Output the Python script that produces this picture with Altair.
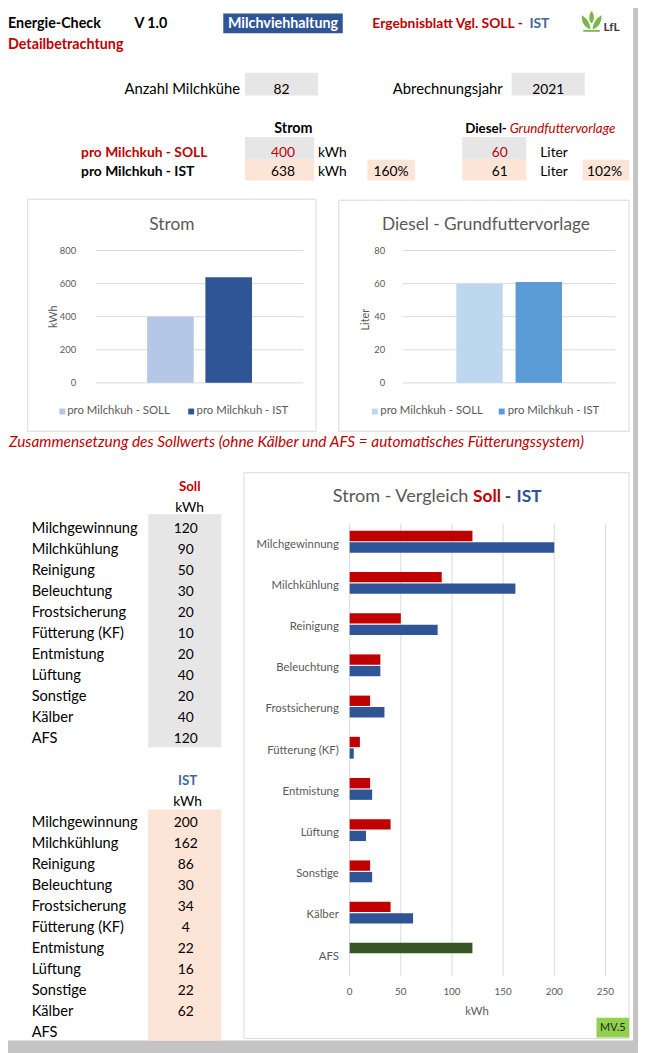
import altair as alt
import pandas as pd

# ---------------- Daten ----------------
kategorien = ["Milchgewinnung", "Milchkühlung", "Reinigung", "Beleuchtung", "Frostsicherung",
              "Fütterung (KF)", "Entmistung", "Lüftung", "Sonstige", "Kälber", "AFS"]
soll_kwh = [120, 90, 50, 30, 20, 10, 20, 40, 20, 40, 120]
ist_kwh = [200, 162, 86, 30, 34, 4, 22, 16, 22, 62, None]

anzahl_milchkuehe = 82
abrechnungsjahr = 2021

serien = ["pro Milchkuh - SOLL", "pro Milchkuh - IST"]
strom_kwh = [400, 638]
diesel_liter = [60, 61]

strom_ticks = [0, 200, 400, 600, 800]
diesel_ticks = [0, 20, 40, 60, 80]
vergleich_ticks = [0, 50, 100, 150, 200, 250]
vergleich_serien = ["SOLL", "IST"]

# ---------------- Stil / Layout ----------------
OFF = 8
FONT = "Lato"
RED = "#c00000"
BLUE = "#2f5597"
IST_BLUE = "#44689a"
GREY_TXT = "#595959"
GRID = "#d9d9d9"
CELL_GREY = "#e7e6e6"
CELL_PEACH = "#fce4d6"
BLACK = "#000000"


def px(v):
    return v - OFF


def texts(rows, size=13, weight="normal", style="normal", align="left",
          baseline="alphabetic", angle=None, dy=None):
    df = pd.DataFrame(rows, columns=["x", "y", "t", "c"])
    df["x"] = df["x"] - OFF
    df["y"] = df["y"] - OFF
    df["t"] = df["t"].astype(str)
    mk = dict(font=FONT, fontSize=size, fontWeight=weight, fontStyle=style,
              align=align, baseline=baseline)
    if angle is not None:
        mk["angle"] = angle
    if dy is not None:
        mk["dy"] = dy
    return alt.Chart(df).mark_text(**mk).encode(
        x=alt.X("x:Q", scale=None, axis=None),
        y=alt.Y("y:Q", scale=None, axis=None),
        text="t:N",
        color=alt.Color("c:N", scale=None, legend=None),
    )


def boxes(rows, stroke=None):
    df = pd.DataFrame(rows, columns=["x", "x2", "y", "y2", "c"])
    for col in ["x", "x2", "y", "y2"]:
        df[col] = df[col] - OFF
    mk = {}
    if stroke:
        mk = dict(stroke=stroke, strokeWidth=1)
    return alt.Chart(df).mark_rect(**mk).encode(
        x=alt.X("x:Q", scale=None, axis=None), x2="x2:Q",
        y=alt.Y("y:Q", scale=None, axis=None), y2="y2:Q",
        fill=alt.Fill("c:N", scale=None, legend=None),
    )


def saeulen(werte, ticks, farben, x0, x1, y0, y1, pin, pout, label_x):
    df = pd.DataFrame({"serie": serien, "wert": werte})
    xs = alt.Scale(domain=serien, range=[px(x0), px(x1)], paddingInner=pin, paddingOuter=pout)
    ys = alt.Scale(domain=[ticks[0], ticks[-1]], range=[px(y0), px(y1)])
    tdf = pd.DataFrame({"tick": ticks})
    grid = alt.Chart(tdf).mark_rule(color=GRID, strokeWidth=1).encode(
        y=alt.Y("tick:Q", scale=ys, axis=None),
        x=alt.value(px(x0)), x2=alt.value(px(x1)))
    lab = alt.Chart(tdf).mark_text(font=FONT, fontSize=9.5, color=GREY_TXT,
                                   align="right", baseline="middle").encode(
        y=alt.Y("tick:Q", scale=ys, axis=None), x=alt.value(px(label_x)), text="tick:Q")
    bars = alt.Chart(df).mark_bar().encode(
        x=alt.X("serie:N", scale=xs, axis=None),
        y=alt.Y("wert:Q", scale=ys, axis=None),
        color=alt.Color("serie:N", scale=alt.Scale(domain=serien, range=farben), legend=None))
    return alt.layer(grid, lab, bars)


def legende(farben, sq_x, tx_x, ly):
    df = pd.DataFrame({"serie": serien,
                       "sx": [px(v) for v in sq_x],
                       "tx": [px(v) for v in tx_x],
                       "ly": [px(ly)] * 2})
    sq = alt.Chart(df).mark_square(size=36, opacity=1).encode(
        x=alt.X("sx:Q", scale=None, axis=None), y=alt.Y("ly:Q", scale=None, axis=None),
        color=alt.Color("serie:N", scale=alt.Scale(domain=serien, range=farben), legend=None))
    tx = alt.Chart(df).mark_text(font=FONT, fontSize=11.5, color=GREY_TXT,
                                 align="left", baseline="middle").encode(
        x=alt.X("tx:Q", scale=None, axis=None), y=alt.Y("ly:Q", scale=None, axis=None),
        text="serie:N")
    return [sq, tx]


layers = []

# Rahmen (Schatten rechts/unten)
layers.append(boxes([(641, 650, 0, 1060, "#c4c4c4"), (0, 650, 1047, 1060, "#c4c4c4")]))

# Zellen-Hintergründe
layers.append(boxes([
    (226, 347, 7, 27, BLUE),
    (248, 322, 67, 90, CELL_GREY),
    (518, 592, 67, 90, CELL_GREY),
    (248, 318, 132, 155, CELL_GREY),
    (248, 318, 155, 176, CELL_PEACH),
    (372, 420, 155, 176, CELL_PEACH),
    (468, 533, 132, 155, CELL_GREY),
    (468, 533, 155, 176, CELL_PEACH),
    (590, 637, 155, 176, CELL_PEACH),
    (150, 224, 514, 750, CELL_GREY),
    (150, 224, 813, 1047, CELL_PEACH),
]))

# Diagramm-Rahmen
layers.append(boxes([
    (28, 320, 195, 430, "#ffffff"),
    (343, 637, 196, 430, "#ffffff"),
    (247, 637, 472, 1045, "#ffffff"),
], stroke=GRID))

# Logo
logo_path = ("M0,-1 C0.3,-0.6 0.3,-0.1 0,0.2 C-0.3,-0.1 -0.3,-0.6 0,-1 Z "
             "M-0.1,0.75 C-0.7,0.6 -1,0 -0.95,-0.6 C-0.45,-0.3 -0.15,0.1 -0.1,0.75 Z "
             "M0.1,0.75 C0.7,0.6 1,0 0.95,-0.6 C0.45,-0.3 0.15,0.1 0.1,0.75 Z "
             "M-0.8,0.82 L0.8,0.82 L0.8,1 L-0.8,1 Z")
layers.append(alt.Chart(pd.DataFrame({"x": [px(599)], "y": [px(15)]})).mark_point(
    shape=logo_path, filled=True, fill="#7ab648", size=441, opacity=1).encode(
    x=alt.X("x:Q", scale=None, axis=None), y=alt.Y("y:Q", scale=None, axis=None)))
layers.append(texts([(611, 25, "LfL", "#3a3a3a")], size=12, weight="bold"))

# Kopf- und Tabellentexte
strom_pct = f"{round(strom_kwh[1] / strom_kwh[0] * 100)}%"
diesel_pct = f"{round(diesel_liter[1] / diesel_liter[0] * 100)}%"

layers.append(texts([
    (8, 22, "Energie-Check", BLACK),
    (136, 22, "V 1.0", BLACK),
    (8, 43, "Detailbetrachtung", RED),
], size=14.5, weight="bold"))

layers.append(texts([
    (377, 22, "Ergebnisblatt Vgl. SOLL -", RED),
    (536, 22, "IST", IST_BLUE),
], size=14, weight="bold"))

layers.append(texts([
    (82, 152, "pro Milchkuh - SOLL", RED),
    (82, 172, "pro Milchkuh - IST", BLACK),
], size=14, weight="bold"))

layers.append(texts([
    (471, 128, "Diesel", BLACK),
    (508, 128, "-", BLACK),
], size=13.5, weight="bold"))

layers.append(texts([
    (286.5, 22, "Milchviehhaltung", "#ffffff"),
    (297, 128, "Strom", BLACK),
], size=14.5, weight="bold", align="center"))

layers.append(texts([
    (192, 490, "Soll", RED),
    (190, 788, "IST", IST_BLUE),
], size=13.5, weight="bold", align="center"))

layers.append(texts([
    (243, 88, "Anzahl Milchkühe", BLACK),
    (509, 88, "Abrechnungsjahr", BLACK),
], size=15, align="right"))

center_rows = [
    (285, 88, anzahl_milchkuehe, BLACK),
    (555, 88, abrechnungsjahr, BLACK),
    (286.5, 152, strom_kwh[0], RED),
    (286.5, 172, strom_kwh[1], BLACK),
    (396, 172, strom_pct, BLACK),
    (506, 152, diesel_liter[0], RED),
    (506, 172, diesel_liter[1], BLACK),
    (612, 172, diesel_pct, BLACK),
    (192, 512, "kWh", BLACK),
    (190, 809, "kWh", BLACK),
]
unit_rows = [
    (322, 152, "kWh", BLACK),
    (322, 172, "kWh", BLACK),
    (547, 152, "Liter", BLACK),
    (547, 172, "Liter", BLACK),
]
label_rows = []
for i, (k, s, v) in enumerate(zip(kategorien, soll_kwh, ist_kwh)):
    y_s = 533 + i * 21.3
    y_i = 831 + i * 21.2
    label_rows.append((32, y_s, k, BLACK))
    label_rows.append((32, y_i, k, BLACK))
    center_rows.append((188, y_s, s, BLACK))
    if v is not None:
        center_rows.append((188, y_i, v, BLACK))

layers.append(texts(center_rows, size=14, align="center"))
layers.append(texts(unit_rows, size=14, align="left"))
layers.append(texts(label_rows, size=14.8, align="left"))

layers.append(texts([(516, 128, "Grundfuttervorlage", RED)], size=13.5, style="italic"))
layers.append(texts([(9, 446, "Zusammensetzung des Sollwerts (ohne Kälber und AFS = automatisches Fütterungssystem)", RED)],
                    size=15.6, style="italic"))

# ---------------- Säulendiagramme ----------------
strom_farben = ["#b4c7e7", "#2f5597"]
diesel_farben = ["#bdd7ee", "#5b9bd5"]

layers.append(saeulen(strom_kwh, strom_ticks, strom_farben, 97, 307, 381, 247, 0.2, 0.88, 77))
layers.append(saeulen(diesel_liter, diesel_ticks, diesel_farben, 408, 623, 381, 247, 0.217, 0.9, 390))
layers += legende(strom_farben, [63, 193.5], [68, 199], 410)
layers += legende(diesel_farben, [379.5, 508], [385, 514], 410)

layers.append(texts([
    (174, 226, "Strom", GREY_TXT),
    (492, 226, "Diesel - Grundfuttervorlage", GREY_TXT),
], size=17.5, align="center"))
layers.append(texts([
    (55, 314, "kWh", GREY_TXT),
    (371, 317, "Liter", GREY_TXT),
], size=11, align="center", baseline="middle", angle=270))

# ---------------- Vergleich Soll - IST ----------------
rows = []
for k, s, v in zip(kategorien, soll_kwh, ist_kwh):
    rows.append({"kategorie": k, "serie": "SOLL", "wert": s})
    if v is not None:
        rows.append({"kategorie": k, "serie": "IST", "wert": v})
vdf = pd.DataFrame(rows)

xs_v = alt.Scale(domain=[vergleich_ticks[0], vergleich_ticks[-1]], range=[px(354), px(613)])
ys_v = alt.Scale(domain=kategorien, range=[px(521), px(980)], paddingInner=0.47, paddingOuter=0.235)
vt = pd.DataFrame({"tick": vergleich_ticks})
vgrid = alt.Chart(vt).mark_rule(color=GRID, strokeWidth=1).encode(
    x=alt.X("tick:Q", scale=xs_v, axis=None), y=alt.value(px(524)), y2=alt.value(px(982)))
vlab = alt.Chart(vt).mark_text(font=FONT, fontSize=10, color=GREY_TXT,
                               align="center", baseline="middle").encode(
    x=alt.X("tick:Q", scale=xs_v, axis=None), y=alt.value(px(998)), text="tick:Q")
klab = alt.Chart(pd.DataFrame({"kategorie": kategorien})).mark_text(
    font=FONT, fontSize=11.5, color=GREY_TXT, align="right", baseline="middle", dy=3).encode(
    y=alt.Y("kategorie:N", scale=ys_v, axis=None), x=alt.value(px(343)), text="kategorie:N")
vbars = alt.Chart(vdf).mark_bar().encode(
    y=alt.Y("kategorie:N", scale=ys_v, axis=None),
    yOffset=alt.YOffset("serie:N", scale=alt.Scale(domain=vergleich_serien, paddingInner=0.1)),
    x=alt.X("wert:Q", scale=xs_v, axis=None),
    color=alt.condition("datum.kategorie === 'AFS'", alt.value("#375623"),
                        alt.Color("serie:N", scale=alt.Scale(domain=vergleich_serien, range=[RED, BLUE]),
                                  legend=None)),
)
layers.append(alt.layer(vgrid, vlab, klab, vbars))

layers.append(texts([(337, 502, "Strom - Vergleich", GREY_TXT)], size=18.3))
layers.append(texts([
    (479, 502, "Soll", RED),
    (511, 502, "-", "#404040"),
    (523, 502, "IST", BLUE),
], size=17.5, weight="bold"))
layers.append(texts([(483, 1018, "kWh", GREY_TXT)], size=11.5, align="center", baseline="middle"))

layers.append(boxes([(604, 637, 1024, 1044, "#92d050")]))
layers.append(texts([(620.5, 1034, "MV.5", "#1e2a14")], size=11, align="center", baseline="middle"))

chart = alt.layer(*layers).resolve_scale(
    x="independent", y="independent", color="independent"
).properties(
    width=638, height=1045, padding=0, autosize=alt.AutoSizeParams(type="none")
).configure_view(stroke=None)

chart.save("out.html", embed_options={"renderer": "svg", "actions": False})
